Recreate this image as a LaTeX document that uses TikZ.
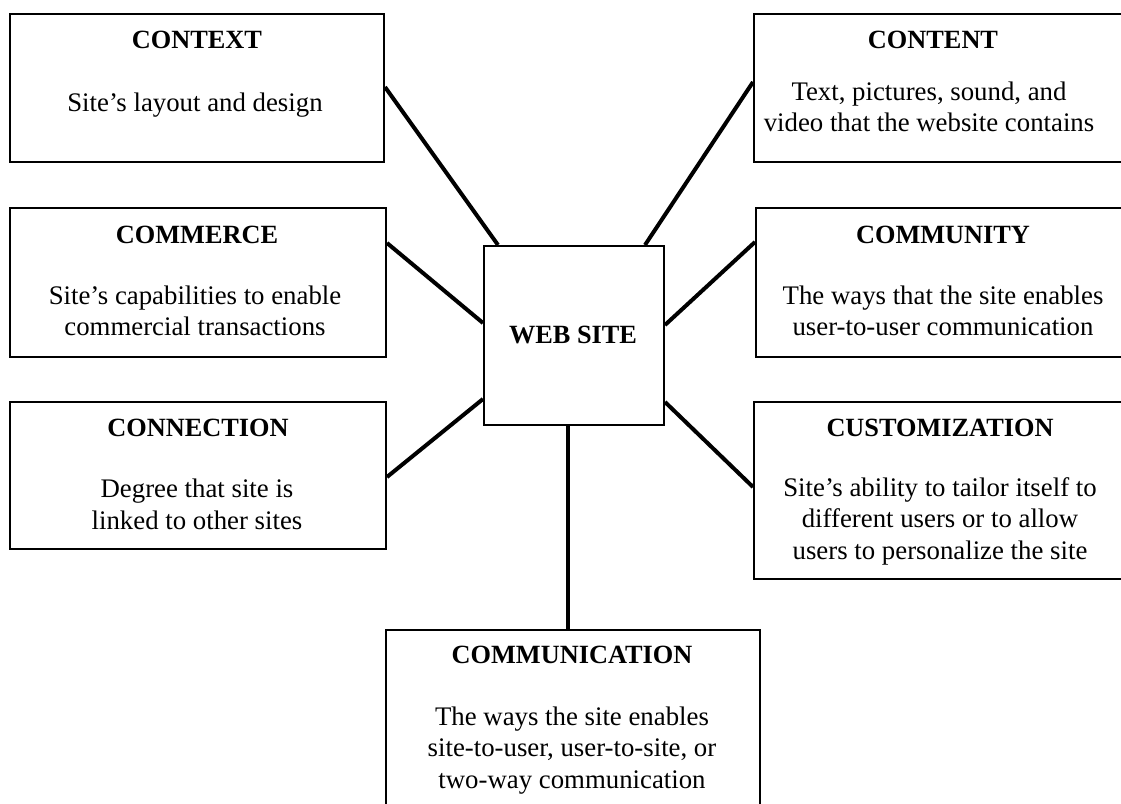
\documentclass[tikz,border=0pt]{standalone}
\usepackage{fontspec}
\setmainfont{Liberation Serif}
\usetikzlibrary{calc}
\tikzset{
  box/.style={draw, line width=2pt, anchor=north west, inner sep=0pt},
  ttl/.style={anchor=base, inner sep=0pt, font=\fontsize{26.3}{30}\selectfont\bfseries},
  body/.style={anchor=base, inner sep=0pt, align=center, font=\fontsize{26.8}{31.5}\selectfont},
  conn/.style={line width=4pt},
}
\begin{document}
\begin{tikzpicture}[x=1pt,y=-1pt]
\useasboundingbox (0,0) rectangle (1121,803);
\clip (0,0) rectangle (1121,803);
% left boxes (body nodes anchored at the baseline of their last line)
\node[box, minimum width=374pt, minimum height=148pt] (context) at (9,13) {};
\node[ttl] (contextT) at (197,48) {CONTEXT};
\node[body] (contextB) at (195,111) {Site’s layout and design};

\node[box, minimum width=376pt, minimum height=149pt] (commerce) at (9,207) {};
\node[ttl] (commerceT) at (197,243) {COMMERCE};
\node[body] (commerceB) at (195,335.5) {Site’s capabilities to enable\\commercial transactions};

\node[box, minimum width=376pt, minimum height=147pt] (connection) at (9,401) {};
\node[ttl] (connectionT) at (198,436) {CONNECTION};
\node[body] (connectionB) at (197,529) {Degree that site is\\linked to other sites};

% right boxes
\node[box, minimum width=390pt, minimum height=148pt] (content) at (753,13) {};
\node[ttl] (contentT) at (933,48) {CONTENT};
\node[body] (contentB) at (929,131.5) {Text, pictures, sound, and\\video that the website contains};

\node[box, minimum width=390pt, minimum height=149pt] (community) at (755,207) {};
\node[ttl] (communityT) at (943,243) {COMMUNITY};
\node[body] (communityB) at (943,335.5) {The ways that the site enables\\user-to-user communication};

\node[box, minimum width=390pt, minimum height=177pt] (custom) at (753,401) {};
\node[ttl] (customT) at (940,436) {CUSTOMIZATION};
\node[body] (customB) at (940,559) {Site’s ability to tailor itself to\\different users or to allow\\users to personalize the site};

% center
\node[box, minimum width=180pt, minimum height=179pt] (web) at (483,245) {};
\node[ttl, anchor=center] (webT) at (573,335) {WEB SITE};

% bottom
\node[box, minimum width=374pt, minimum height=200pt] (comm) at (385,629) {};
\node[ttl] (commT) at (572,663) {COMMUNICATION};
\node[body] (commB) at (572,788) {The ways the site enables\\site-to-user, user-to-site, or\\two-way communication};

% connectors
\draw[conn] ($(context.north east)+(0,74)$) -- ($(web.north west)+(15,0)$);
\draw[conn] ($(commerce.north east)+(0,36)$) -- ($(web.north west)+(0,78)$);
\draw[conn] ($(connection.north east)+(0,76)$) -- ($(web.north west)+(0,154)$);
\draw[conn] ($(content.north west)+(0,69)$) -- ($(web.north east)+(-20,0)$);
\draw[conn] ($(community.north west)+(0,35)$) -- ($(web.north east)+(0,80)$);
\draw[conn] ($(custom.north west)+(0,86)$) -- ($(web.north east)+(0,157)$);
\draw[conn] ($(web.south)+(-6,0)$) coordinate (t) -- (t |- comm.north);
\end{tikzpicture}
\end{document}
